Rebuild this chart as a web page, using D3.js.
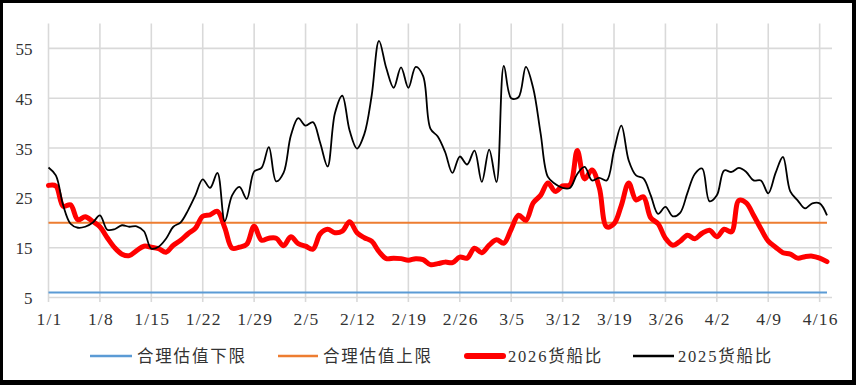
<!DOCTYPE html>
<html>
<head>
<meta charset="utf-8">
<script src="https://cdn.jsdelivr.net/npm/d3@7"></script>
<style>
  html, body { margin: 0; padding: 0; background: #fff; }
  svg { display: block; }
</style>
</head>
<body>
<svg id="chart" width="856" height="385"></svg>
<script>
// ---------------- data ----------------
const startDate = new Date(2026, 0, 1);
const endDate = new Date(2026, 3, 17);
const dates = d3.timeDay.range(startDate, d3.timeDay.offset(endDate, 1)); // 1/1 .. 4/17

const series2026 = [
  27.5, 27.4, 23.3, 23.6, 20.6, 21.2, 20.3, 19.2, 17.0, 15.0,
  13.7, 13.4, 14.4, 15.3, 15.1, 14.8, 14.1, 15.5, 16.5, 17.8,
  18.9, 21.3, 21.6, 22.3, 19.0, 14.9, 15.1, 15.7, 19.3, 16.5,
  16.9, 16.9, 15.4, 17.2, 15.8, 15.3, 14.7, 17.8, 18.7, 18.0,
  18.3, 20.2, 18.0, 17.0, 16.3, 14.2, 12.8, 12.9, 12.8, 12.5,
  12.8, 12.6, 11.6, 11.8, 12.1, 12.0, 13.1, 12.9, 14.9, 14.0,
  15.5, 16.6, 15.9, 18.7, 21.5, 20.5, 24.0, 25.5, 28.0, 26.3,
  27.4, 27.6, 34.5, 28.8, 30.6, 27.0, 19.2, 19.8, 23.5, 28.0,
  24.6, 25.2, 21.0, 19.8, 16.9, 15.5, 16.3, 17.5, 16.8, 17.9,
  18.5, 17.2, 18.7, 18.2, 24.5, 24.0, 21.5, 18.8, 16.3, 15.1,
  14.0, 13.7, 12.9, 13.2, 13.3, 12.9, 12.2
];

const series2025 = [
  31.1, 29.5, 23.5, 19.8, 19.0, 19.2, 20.0, 21.5, 18.6, 18.7,
  19.5, 19.2, 19.3, 18.3, 14.8, 15.2, 16.8, 19.2, 20.1, 22.5,
  25.5, 28.7, 27.0, 30.0, 20.3, 25.5, 27.2, 24.8, 30.3, 31.0,
  35.2, 28.3, 30.0, 37.5, 41.0, 39.5, 40.2, 36.0, 31.3, 42.0,
  45.5, 38.5, 34.9, 37.8, 45.5, 56.5, 51.0, 47.1, 51.2, 47.1,
  51.3, 49.5, 38.9, 37.3, 34.2, 30.0, 33.3, 31.7, 34.5, 28.2,
  34.7, 28.2, 51.5, 45.0, 45.2, 51.3, 47.0, 38.0, 29.2, 27.8,
  27.0, 27.0, 29.8, 31.2, 28.5, 29.0, 28.5, 34.5, 39.5, 32.5,
  29.5, 28.9, 25.5, 21.8, 23.2, 21.3, 22.0, 26.0, 29.8, 30.9,
  24.3, 25.5, 30.5, 30.2, 31.0, 30.2, 28.5, 28.5, 25.9, 30.0,
  33.2, 26.3, 24.5, 22.9, 23.9, 23.9, 21.5
];

const lowerLimit = 6;   // 合理估值下限
const upperLimit = 20;  // 合理估值上限

const tickLabels = ["1/1","1/8","1/15","1/22","1/29","2/5","2/12","2/19","2/26",
                    "3/5","3/12","3/19","3/26","4/2","4/9","4/16"];
const yTicks = [5, 15, 25, 35, 45, 55];

const legendNames = ["合理估值下限", "合理估值上限", "2026货船比", "2025货船比"];

// ---------------- layout ----------------
const svg = d3.select("#chart");
const W = 856, H = 385;

// frame
svg.append("rect").attr("x", 0).attr("y", 0).attr("width", W).attr("height", H).attr("fill", "#000");
svg.append("rect").attr("x", 3).attr("y", 3).attr("width", 849).attr("height", 377).attr("fill", "#fff");

const plotLeft = 48.5, plotRight = 832, plotTop = 23.5, plotBottom = 297.5;

const x = d3.scaleTime()
  .domain([startDate, endDate])
  .range([48.5, 827]);
const y = d3.scaleLinear().domain([5, 60]).range([plotBottom, plotTop]);

const tickDates = tickLabels.map(s => {
  const [m, d] = s.split("/").map(Number);
  return new Date(2026, m - 1, d);
});

const grid = svg.append("g");
// horizontal gridlines
grid.selectAll("line.h").data(yTicks).join("line")
  .attr("x1", plotLeft).attr("x2", plotRight)
  .attr("y1", d => y(d)).attr("y2", d => y(d))
  .attr("stroke", "#d9d9d9").attr("stroke-width", 1.6);
// vertical gridlines
grid.selectAll("line.v").data(tickDates).join("line")
  .attr("x1", d => x(d)).attr("x2", d => x(d))
  .attr("y1", plotTop).attr("y2", 302)
  .attr("stroke", "#d9d9d9").attr("stroke-width", 1.6);

// y labels
svg.append("g").selectAll("text").data(yTicks).join("text")
  .attr("x", 32.5).attr("y", d => y(d) + 6.5)
  .attr("text-anchor", "end")
  .attr("font-family", "'Liberation Serif', serif")
  .attr("font-size", 17)
  .attr("fill", "#333")
  .text(d => d);

// x labels
svg.append("g").selectAll("text").data(tickLabels).join("text")
  .attr("x", (d, i) => x(tickDates[i]) + 1)
  .attr("y", 325)
  .attr("text-anchor", "middle")
  .attr("font-family", "'Liberation Serif', serif")
  .attr("font-size", 17.5)
  .attr("letter-spacing", 1.2)
  .attr("fill", "#333")
  .text(d => d);

// limit lines
const xStart = x(dates[0]), xEnd = x(dates[dates.length - 1]);
svg.append("line").attr("x1", xStart).attr("x2", xEnd)
  .attr("y1", y(lowerLimit)).attr("y2", y(lowerLimit))
  .attr("stroke", "#5b9bd5").attr("stroke-width", 2.2);
svg.append("line").attr("x1", xStart).attr("x2", xEnd)
  .attr("y1", y(upperLimit)).attr("y2", y(upperLimit))
  .attr("stroke", "#ed7d31").attr("stroke-width", 2);

const line = d3.line()
  .x((d, i) => x(dates[i]))
  .y(d => y(d))
  .curve(d3.curveCatmullRom.alpha(0.5));

svg.append("path").datum(series2026)
  .attr("d", line)
  .attr("fill", "none").attr("stroke", "#ff0000")
  .attr("stroke-width", 5).attr("stroke-linejoin", "round").attr("stroke-linecap", "round");

svg.append("path").datum(series2025)
  .attr("d", line)
  .attr("fill", "none").attr("stroke", "#000")
  .attr("stroke-width", 1.8).attr("stroke-linejoin", "round");

// legend
const legendItems = [
  { name: legendNames[0], color: "#5b9bd5", width: 2.5, x1: 90, x2: 132, tx: 137, cap: "butt" },
  { name: legendNames[1], color: "#ed7d31", width: 2.5, x1: 278, x2: 318, tx: 323, cap: "butt" },
  { name: legendNames[2], color: "#ff0000", width: 6, x1: 467, x2: 503, tx: 508, cap: "round" },
  { name: legendNames[3], color: "#000", width: 2.5, x1: 633, x2: 674, tx: 678, cap: "butt" }
];
const lg = svg.append("g");
legendItems.forEach(it => {
  lg.append("line").attr("x1", it.x1).attr("x2", it.x2).attr("y1", 356).attr("y2", 356)
    .attr("stroke", it.color).attr("stroke-width", it.width).attr("stroke-linecap", it.cap);
  lg.append("text").attr("x", it.tx).attr("y", 362)
    .attr("font-family", "'Liberation Serif', 'Noto Sans CJK SC', serif")
    .attr("font-size", 16.5)
    .attr("letter-spacing", 1.8)
    .attr("fill", "#333")
    .text(it.name);
});
</script>
</body>
</html>
